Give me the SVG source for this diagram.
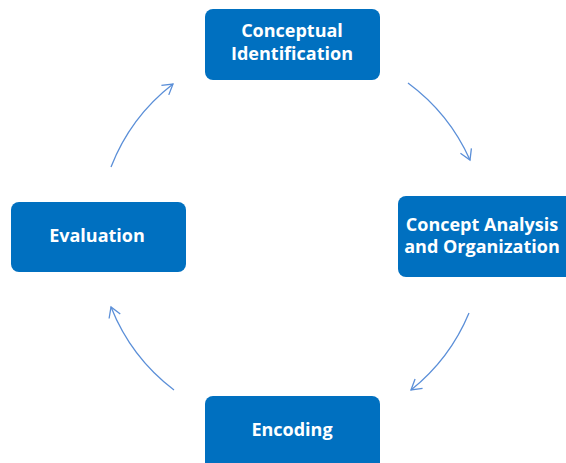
<svg xmlns="http://www.w3.org/2000/svg" width="566" height="463" viewBox="0 0 566 463">
<defs>
<style>
.box{fill:#0070c0;}
.lbl{fill:#ffffff;font-family:"Open Sans","Liberation Sans",sans-serif;font-weight:bold;font-size:18px;text-anchor:middle;}
.conn{fill:none;stroke:#5b8fd8;stroke-width:1.3;marker-end:url(#ah);}
</style>
<marker id="ah" markerUnits="userSpaceOnUse" markerWidth="14" markerHeight="14" viewBox="0 0 14 14" refX="12" refY="7" orient="auto">
<path d="M2,1 L12,7 L2,13" fill="none" stroke="#5b8fd8" stroke-width="1.3"/>
</marker>
</defs>
<rect width="566" height="463" fill="#ffffff"/>
<g id="connectors">
<path class="conn" d="M408,83 A194,194 0 0 1 470,160"/>
<path class="conn" d="M469,313 A194,194 0 0 1 411,390"/>
<path class="conn" d="M174,390 A194,194 0 0 1 111,307"/>
<path class="conn" d="M111,167 A194,194 0 0 1 173,84"/>
</g>
<g id="conceptual-identification">
<rect class="box" x="205" y="9" width="175" height="71" rx="8"/>
<text class="lbl" x="292" y="37">Conceptual</text>
<text class="lbl" x="292" y="60">Identification</text>
</g>
<g id="concept-analysis">
<rect class="box" x="398" y="196" width="176" height="81" rx="8"/>
<text class="lbl" x="482" y="231">Concept Analysis</text>
<text class="lbl" x="482" y="253">and Organization</text>
</g>
<g id="encoding">
<rect class="box" x="205" y="396" width="175" height="75" rx="8"/>
<text class="lbl" x="292" y="436">Encoding</text>
</g>
<g id="evaluation">
<rect class="box" x="11" y="202" width="175" height="70" rx="8"/>
<text class="lbl" x="97" y="242">Evaluation</text>
</g>
</svg>
